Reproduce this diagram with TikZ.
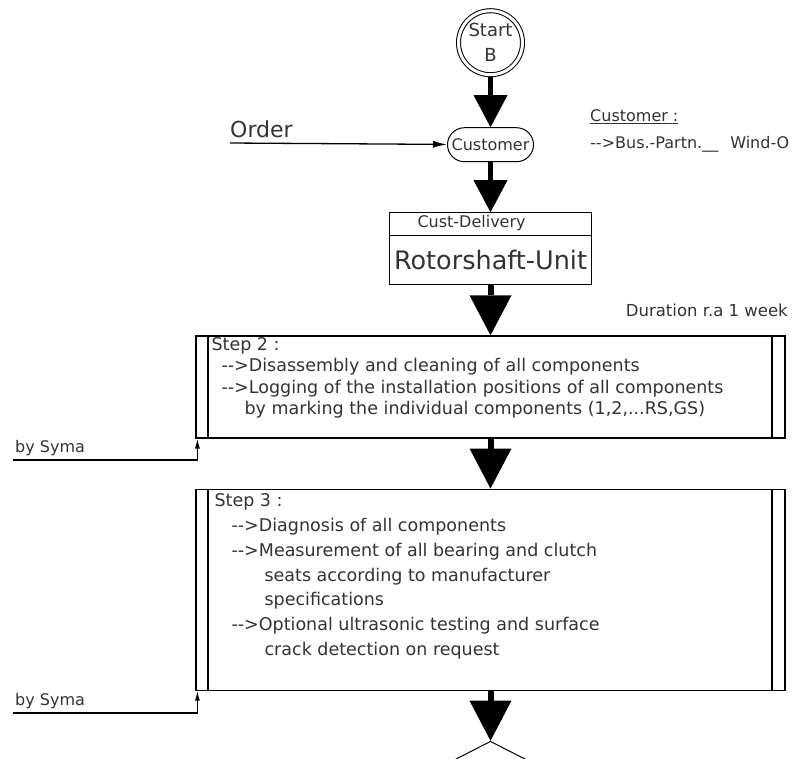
\documentclass[tikz,border=0pt]{standalone}
\usepackage{fontspec}
\newfontfamily\cad{DejaVu Sans}
\usetikzlibrary{arrows.meta,shapes.geometric,shapes.multipart}
\definecolor{txtgray}{HTML}{333333}
\newcommand{\arrw}{-\kern0pt-\kern0pt>}

\begin{document}
\begin{tikzpicture}[x=1pt, y=-1pt,
                    >=latex,
                    txt/.style={inner sep=0pt, text=txtgray, font=\cad\fontsize{16}{22}\selectfont, align=left},
                    startnode/.style={draw, circle, double, double distance=3pt, line width=1pt, minimum size=64pt,
                                      inner sep=0pt, outer sep=2pt, align=center, text=txtgray,
                                      font=\cad\fontsize{18}{25}\selectfont},
                    term/.style={draw, rounded corners=17pt, line width=1pt, minimum width=86pt, minimum height=34pt,
                                 inner sep=0pt, text=txtgray, font=\cad\fontsize{16}{20}\selectfont},
                    delivbox/.style={draw, rectangle split, rectangle split parts=2, rectangle split part align={left,center},
                                     line width=1.2pt, minimum width=202pt, inner xsep=0pt, inner ysep=0pt,
                                     text=txtgray, font=\cad\fontsize{16}{20}\selectfont},
                    stepbox/.style={draw, line width=1.2pt, minimum width=589pt, inner sep=0pt,
                                    path picture={
                                      \draw[line width=1.2pt] ([xshift=12pt]path picture bounding box.north west)
                                        -- ([xshift=12pt]path picture bounding box.south west);
                                      \draw[line width=1.2pt] ([xshift=-13pt]path picture bounding box.north east)
                                        -- ([xshift=-13pt]path picture bounding box.south east);}},
                    decision/.style={draw, diamond, line width=1pt, minimum width=156pt, minimum height=80pt, inner sep=0pt},
                    flow/.style={line width=5pt, -{Triangle[width=34pt, length=32pt, line width=0pt]}},
                    bigflow/.style={line width=6pt, -{Triangle[width=42pt, length=40pt, line width=0pt]}},
                    feed/.style={line width=1.2pt, -{Latex[length=10pt, width=5pt]}}]

\useasboundingbox (0,0) rectangle (794,758);
\fill[white] (0,0) rectangle (794,758);

\matrix (chart) [row sep=50pt, inner sep=0pt, anchor=north] at (490.5,8) {

\node [startnode] (start) {Start\\B}; \\

\node [term] (cust) {Customer}; \\

\node [delivbox] (deliv) {\rule[-7pt]{0pt}{21.5pt}\hspace*{28pt}Cust-Delivery
  \nodepart{two}\fontsize{25.5}{30}\selectfont\rule[-15pt]{0pt}{48pt}Rotorshaft-Unit}; \\

\node [stepbox, minimum height=102pt] (step2) {}; \\

\node [stepbox, minimum height=201pt] (step3) {}; \\

\node [decision] (decide) {}; \\};

\draw [flow] (start) -- (cust);
\draw [flow] (cust) -- (deliv);
\draw [bigflow] (deliv) -- (step2);
\draw [bigflow] (step2) -- (step3);
\draw [bigflow] (step3) -- (decide);

\coordinate (ordin) at (230,143);
\node [txt, anchor=south west, font=\cad\fontsize{22}{26}\selectfont] (ordertxt) at ([yshift=5pt]ordin) {Order};
\draw [line width=1.3pt, -{Latex[length=14pt, width=7pt]}] (ordin) -- (cust);

\node [txt, anchor=north west, font=\cad\fontsize{16}{27}\selectfont] (custnote) at (590,109)
  {\underline{Customer :}\\\arrw Bus.-Partn.\_\_\hspace{12pt}Wind-O};
\node [txt, anchor=base east, font=\cad\fontsize{16.5}{22}\selectfont] (duration) at (788,316) {Duration r.a 1 week};

\node [txt, anchor=north west, font=\cad\fontsize{17.5}{21.5}\selectfont] (step2txt) at ([xshift=16pt, yshift=-2pt]step2.north west)
  {Step 2 :\\
   \hspace*{10pt}\arrw Disassembly and cleaning of all components\\
   \hspace*{10pt}\arrw Logging of the installation positions of all components\\
   \hspace*{33pt}by marking the individual components (1,2,...RS,GS)};

\node [txt, anchor=north west, font=\cad\fontsize{17.5}{24.8}\selectfont] (step3txt) at ([xshift=19pt, yshift=-5pt]step3.north west)
  {Step 3 :\\
   \hspace*{17pt}\arrw Diagnosis of all components\\
   \hspace*{17pt}\arrw Measurement of all bearing and clutch\\
   \hspace*{50pt}seats according to manufacturer\\
   \hspace*{50pt}specifications\\
   \hspace*{17pt}\arrw Optional ultrasonic testing and surface\\
   \hspace*{50pt}crack detection on request};

\coordinate (syma2) at (13,460);
\node [txt, anchor=base west] (syma2txt) at (15,452) {by Syma};
\draw [feed] (syma2) -| ([xshift=2pt]step2.south west);

\coordinate (syma3) at (13,713);
\node [txt, anchor=base west] (syma3txt) at (15,705) {by Syma};
\draw [feed] (syma3) -| ([xshift=2pt]step3.south west);
\end{tikzpicture}
\end{document}
